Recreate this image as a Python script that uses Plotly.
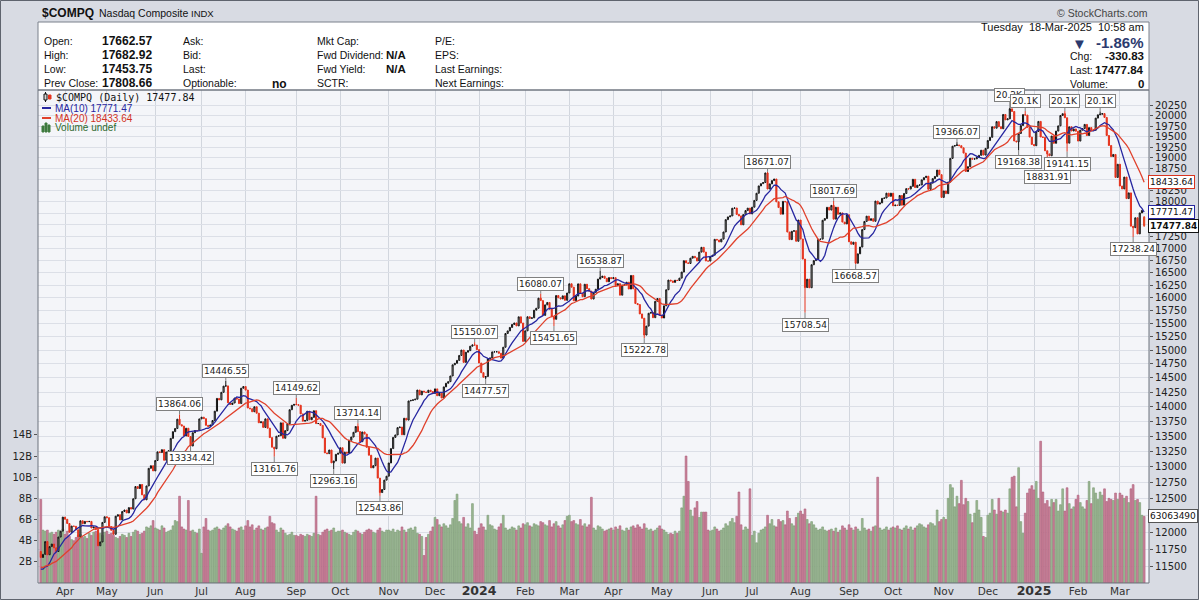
import numpy as np
import pandas as pd
import plotly.graph_objects as go

# ============================================
# DATA
# ============================================

market_holidays = [
    "2023-04-07", "2023-05-29", "2023-06-19", "2023-07-04", "2023-09-04",
    "2023-11-23", "2023-12-25", "2024-01-01", "2024-01-15", "2024-02-19",
    "2024-03-29", "2024-05-27", "2024-06-19", "2024-07-04", "2024-09-02",
    "2024-11-28", "2024-12-25", "2025-01-01", "2025-01-09", "2025-01-20",
    "2025-02-17",
]

# closes before the first visible bar, only used to seed the moving averages
warmup_closes = [
    11787.27, 11492.30, 11507.07, 11590.40, 11394.94, 11466.98, 11455.54,
    11379.48, 11462.98, 11689.01, 11675.74, 11530.33, 11576.00, 11338.36,
    11138.89, 11188.84, 11428.15, 11434.05, 11717.28,
]

closes = [
    # 2023 Mar (from the 17th)
    11630.51, 11675.54, 11860.11, 11669.96, 11787.40, 11823.96, 11768.84, 11716.08, 11926.24, 12013.47, 12221.91,
    # Apr
    12189.45, 12126.33, 11996.86, 12087.96, 12084.36, 12031.88, 11929.34, 12166.27, 12123.47, 12157.72,
    12153.41, 12157.23, 12059.56, 12072.46, 12037.20, 11799.16, 11854.35, 12142.24, 12226.58,
    # May
    12212.60, 12080.51, 12025.33, 11966.40, 12235.41, 12256.92, 12179.55, 12306.44, 12328.51, 12284.74, 12365.21,
    12343.05, 12500.57, 12688.84, 12657.90, 12720.78, 12560.25, 12484.16, 12698.09, 12975.69, 13017.43, 12935.29,
    # Jun
    13100.98, 13240.77, 13229.43, 13276.42, 13104.90, 13238.52, 13259.14, 13461.92, 13573.32, 13626.48, 13782.82,
    13689.57, 13667.29, 13502.20, 13630.61, 13492.52, 13335.78, 13555.67, 13591.75, 13591.33, 13787.92,
    # Jul
    13816.77, 13791.65, 13679.04, 13660.72, 13685.48, 13760.70, 13918.96, 14138.57, 14113.70, 14244.95,
    14353.64, 14358.02, 14063.31, 14032.81, 14058.87, 14144.56, 14127.28, 14050.11, 14316.66, 14346.02,
    # Aug
    14283.91, 13973.45, 13959.72, 13909.24, 13994.40, 13884.32, 13722.02, 13737.99, 13644.85, 13788.33, 13631.05,
    13474.63, 13316.93, 13290.78, 13497.59, 13505.87, 13721.03, 13463.97, 13590.65, 13705.13, 13943.76, 14019.31, 14034.97,
    # Sep
    14031.82, 14020.95, 13872.47, 13748.83, 13761.53, 13917.89, 13773.61, 13813.59, 13926.05, 13708.33,
    13710.24, 13678.19, 13469.13, 13223.98, 13211.81, 13271.32, 13063.61, 13092.85, 13201.28, 13219.32,
    # Oct
    13307.77, 13059.47, 13236.01, 13219.83, 13431.34, 13484.24, 13562.84, 13659.68, 13574.22, 13407.23, 13567.98,
    13533.75, 13314.30, 13186.18, 12983.81, 13018.33, 13139.88, 12821.22, 12595.61, 12643.01, 12789.48, 12851.24,
    # Nov
    13061.47, 13294.19, 13478.28, 13518.78, 13639.86, 13650.41, 13521.45, 13798.11, 13767.74, 14094.38, 14103.84,
    14113.67, 14125.48, 14284.53, 14199.98, 14265.86, 14250.85, 14241.02, 14281.76, 14258.49, 14226.22,
    # Dec
    14305.03, 14185.49, 14229.91, 14146.71, 14339.99, 14403.97, 14432.49, 14533.40, 14733.96, 14761.56,
    14813.92, 14904.81, 15003.22, 14777.94, 14963.87, 14992.97, 15074.57, 15099.18, 15095.14, 15011.35,
    # 2024 Jan
    14765.94, 14592.21, 14510.30, 14524.07, 14843.77, 14857.71, 14969.65, 14970.19, 14972.76, 14944.35, 14855.62,
    15055.65, 15310.97, 15360.29, 15425.94, 15481.92, 15510.50, 15455.36, 15628.04, 15509.90, 15164.01,
    # Feb
    15361.64, 15628.95, 15597.68, 15609.00, 15756.64, 15793.72, 15990.66, 15942.55, 15655.60, 15859.15,
    15906.17, 15775.65, 15630.78, 15580.87, 16041.62, 15996.82, 15976.25, 16035.30, 15947.74, 16091.92,
    # Mar
    16274.94, 16207.51, 15939.59, 16031.54, 16273.38, 16085.11, 16019.27, 16265.64, 16177.77, 16128.53,
    15973.17, 16103.45, 16166.79, 16369.41, 16401.84, 16428.82, 16384.47, 16315.70, 16399.52, 16379.46,
    # Apr
    16396.83, 16240.45, 16277.46, 16049.08, 16248.52, 16253.96, 16306.64, 16170.36, 16442.20, 16175.09, 15885.02,
    15865.25, 15683.37, 15601.50, 15282.01, 15451.31, 15696.64, 15712.75, 15611.76, 15927.90, 15983.08, 15657.82,
    # May
    15605.48, 15840.96, 16156.33, 16349.25, 16332.56, 16302.76, 16346.26, 16340.87, 16388.24, 16511.18, 16742.39,
    16698.32, 16685.97, 16794.87, 16832.62, 16801.54, 16736.03, 16920.79, 17019.88, 16920.58, 16737.08, 16735.02,
    # Jun
    16828.67, 16857.05, 17187.90, 17173.12, 17133.13, 17192.53, 17343.55, 17608.44, 17667.56, 17688.88,
    17857.02, 17862.23, 17721.59, 17689.36, 17496.82, 17717.65, 17805.16, 17858.68, 17732.60,
    # Jul
    17879.30, 18028.76, 18188.30, 18352.76, 18403.74, 18429.29, 18647.45, 18283.41, 18398.45, 18472.57, 18509.34,
    17996.92, 17871.22, 17726.94, 18007.57, 17997.35, 17342.41, 17181.72, 17357.88, 17370.20, 17147.42, 17599.40,
    # Aug
    17194.15, 16776.16, 16200.08, 16366.86, 16195.81, 16660.02, 16745.30, 16780.61, 17187.61, 17192.60, 17594.50,
    17631.72, 17876.77, 17816.94, 17918.99, 17619.35, 17877.79, 17725.77, 17754.82, 17556.03, 17516.43, 17713.62,
    # Sep
    17136.30, 17084.30, 17127.66, 16690.83, 16884.60, 17025.88, 17395.53, 17569.68, 17683.98, 17592.13,
    17628.06, 17573.30, 18013.98, 17948.32, 17974.27, 18074.52, 18082.21, 18190.29, 18119.59, 18189.17,
    # Oct
    17910.36, 17925.12, 17918.48, 18137.85, 17923.90, 18182.92, 18291.62, 18282.05, 18342.94, 18502.69, 18315.59, 18367.08,
    18373.61, 18489.55, 18540.01, 18573.13, 18276.65, 18415.49, 18518.61, 18567.19, 18712.75, 18607.93, 18095.15,
    # Nov
    18239.92, 18179.98, 18439.17, 18983.47, 19269.46, 19286.78, 19298.76, 19281.40, 19230.74, 19107.65,
    18680.12, 18791.81, 18987.47, 18966.14, 18972.42, 19003.65, 19054.84, 19174.30, 19060.48, 19218.17,
    # Dec
    19403.95, 19480.91, 19735.12, 19700.26, 19859.77, 19736.69, 19687.24, 20034.89, 19902.84, 19926.72, 20173.89,
    20109.06, 19392.69, 19372.77, 19572.60, 19764.89, 20031.13, 20020.36, 19722.03, 19486.79, 19310.79,
    # 2025 Jan
    19280.79, 19621.68, 19864.98, 19489.68, 19478.88, 19161.63, 19088.10, 19044.39, 19511.23, 19338.29,
    19630.20, 19756.78, 20009.34, 20053.68, 19954.30, 19341.83, 19733.59, 19632.32, 19681.75, 19627.44,
    # Feb
    19391.96, 19654.02, 19692.33, 19791.99, 19523.40, 19714.27, 19643.86, 19649.95, 19945.64, 20026.77,
    20041.26, 20056.25, 19962.36, 19524.01, 19286.93, 19026.39, 19075.26, 18544.42, 18847.28,
    # Mar
    18350.19, 18285.16, 18552.73, 18069.26, 18196.22, 17468.32, 17436.10, 17648.45, 17303.01, 17754.09,
    17808.66, 17477.84,
]

# daily volume in billions of shares
volumes = [
    # 2023 Mar
    7.9, 5.0, 4.9, 5.0, 4.7, 4.8, 4.6, 4.8, 5.0, 4.7, 5.1,
    # Apr
    4.6, 4.9, 4.4, 4.1, 4.0, 4.3, 4.5, 4.6, 4.3, 4.4, 4.2, 4.7, 4.5, 4.8, 4.9, 4.6, 4.7, 4.5, 4.8,
    # May
    4.9, 4.6, 4.7, 4.5, 4.3, 4.2, 4.4, 4.6, 4.5, 4.3, 4.7, 4.4, 4.8, 5.0, 4.9, 4.6, 4.7, 4.9, 5.3, 5.2, 5.4, 5.9,
    # Jun
    5.2, 5.1, 5.0, 5.4, 5.2, 4.8, 4.9, 5.0, 5.4, 5.9, 5.8, 8.2, 5.3, 5.1, 5.0, 7.8, 4.9, 5.0, 4.8, 4.7, 5.1,
    # Jul
    2.8, 5.3, 6.1, 5.0, 4.9, 5.0, 5.2, 5.3, 5.1, 5.0, 5.2, 5.4, 5.6, 5.3, 5.1, 5.0, 4.9, 5.2, 5.3, 5.0,
    # Aug
    5.4, 5.9, 5.3, 5.5, 5.0, 5.2, 5.4, 5.1, 5.0, 5.2, 5.3, 6.3, 5.7, 5.6, 5.0, 4.8, 5.2, 5.0, 4.7, 4.5, 4.6, 4.8, 4.5,
    # Sep
    4.5, 4.4, 4.6, 4.5, 4.4, 4.6, 4.5, 4.4, 4.7, 8.2, 4.6, 4.5, 4.8, 5.0, 5.1, 4.9, 5.0, 5.2, 4.8, 4.9,
    # Oct
    4.9, 5.0, 4.8, 4.7, 4.6, 4.5, 4.8, 5.0, 4.9, 4.7, 4.6, 4.8, 5.0, 5.1, 5.0, 4.8, 4.7, 5.0, 5.2, 4.9, 4.8, 5.0,
    # Nov
    5.0, 4.9, 5.1, 4.8, 5.0, 4.9, 5.3, 5.0, 4.8, 5.1, 5.2, 5.0, 5.3, 4.7, 4.6, 4.4, 2.6, 4.3, 4.6, 4.9, 5.3,
    # Dec
    6.2, 6.0, 5.5, 5.3, 5.6, 5.4, 5.2, 5.5, 6.1, 7.8, 8.4, 5.8, 5.6, 6.2, 5.3, 5.6, 5.2, 7.5, 4.9, 4.6,
    # 2024 Jan
    5.2, 5.6, 5.3, 5.0, 6.4, 5.5, 5.4, 5.1, 5.0, 5.3, 5.6, 6.4, 5.2, 5.0, 5.1, 5.3, 5.2, 5.0, 5.4, 5.2, 5.6,
    # Feb
    5.5, 5.7, 5.4, 5.3, 5.6, 5.5, 5.4, 5.8, 5.7, 5.5, 5.4, 5.9, 5.3, 5.6, 5.8, 5.4, 5.2, 5.5, 5.9, 6.3,
    # Mar
    6.4, 5.8, 5.9, 5.6, 5.5, 6.0, 5.4, 5.6, 5.3, 5.5, 8.1, 5.2, 5.0, 5.4, 5.3, 5.1, 4.9, 5.0, 5.1, 5.2,
    # Apr
    5.0, 5.3, 5.1, 5.4, 5.0, 4.9, 5.2, 5.0, 5.3, 5.4, 5.2, 5.5, 5.3, 5.1, 5.6, 5.2, 5.0, 5.1, 4.9, 5.0, 5.2, 5.4,
    # May
    5.1, 5.0, 4.8, 4.6, 4.7, 4.6, 4.9, 4.7, 4.9, 7.1, 8.2, 12.0, 9.6, 6.9, 6.3, 7.1, 7.7, 6.2, 6.7, 6.7, 6.7, 5.0,
    # Jun
    4.9, 5.0, 5.3, 5.1, 4.9, 5.0, 5.2, 5.6, 5.4, 5.8, 6.1, 5.7, 6.3, 8.6, 5.5, 5.0, 5.3, 5.1, 8.9,
    # Jul
    4.5, 4.9, 3.8, 4.7, 5.0, 5.1, 5.3, 6.4, 5.6, 6.0, 5.4, 5.3, 6.0, 5.8, 5.9, 5.5, 6.8, 6.1, 5.6, 5.4, 6.2, 6.6,
    # Aug
    6.8, 6.5, 7.0, 6.0, 5.6, 5.8, 5.5, 5.2, 5.0, 5.1, 5.3, 5.0, 4.9, 5.0, 5.1, 4.9, 5.2, 4.8, 5.0, 5.4, 5.2, 5.0,
    # Sep
    5.5, 5.2, 5.0, 5.3, 5.1, 4.9, 6.1, 5.2, 5.0, 5.1, 4.9, 5.3, 5.4, 10.0, 5.2, 5.0, 5.1, 5.3, 5.0, 5.2,
    # Oct
    5.3, 5.2, 5.4, 5.1, 5.0, 5.2, 5.4, 5.1, 5.3, 5.0, 5.2, 5.4, 5.6, 5.5, 5.3, 5.2, 5.5, 5.7, 5.6, 5.4, 6.9, 5.8, 6.0,
    # Nov
    6.2, 6.0, 8.0, 9.3, 9.0, 7.2, 8.2, 7.5, 9.7, 7.4, 8.0, 7.7, 6.5, 5.7, 6.6, 7.8, 6.9, 6.2, 4.4, 4.3,
    # Dec
    6.4, 6.6, 7.9, 6.9, 6.5, 8.0, 6.8, 6.7, 6.9, 6.6, 8.9, 10.0, 10.1, 7.2, 10.9, 5.8, 4.7, 6.6, 8.5, 8.9, 9.2,
    # 2025 Jan
    8.8, 9.6, 8.0, 13.4, 8.6, 7.5, 7.8, 7.2, 7.9, 7.6, 7.9, 6.8, 7.4, 8.9, 6.8, 9.0, 7.5, 7.0, 7.2, 7.9,
    # Feb
    8.3, 7.6, 7.2, 7.0, 7.8, 9.6, 7.5, 9.0, 8.5, 7.9, 8.6, 8.3, 8.9, 7.7, 8.0, 7.9, 7.8, 8.5, 7.9,
    # Mar
    8.5, 8.3, 8.0, 8.2, 7.6, 8.9, 9.3, 7.8, 7.9, 7.6, 6.4, 6.3,
]

# intraday bar of the last session and header figures
last_open = 17662.57
last_high = 17682.92
last_low = 17453.75
header_change = -330.83
header_pct = -1.86
header_ma10 = 17771.47
header_ma20 = 18433.64
last_volume_text = "63063490"

# swing highs / lows labelled on the chart
pivot_dates = [
    "2023-06-16", "2023-06-26", "2023-07-19", "2023-08-18", "2023-09-01", "2023-09-27",
    "2023-10-12", "2023-10-26", "2023-12-28", "2024-01-05", "2024-02-12", "2024-02-21",
    "2024-03-21", "2024-04-19", "2024-07-11", "2024-08-05", "2024-08-22", "2024-09-06",
    "2024-11-11", "2024-12-16", "2024-12-20", "2024-12-26", "2025-01-13", "2025-01-24",
    "2025-01-27", "2025-02-18", "2025-03-11",
]
pivot_values = [
    13864.06, 13334.42, 14446.55, 13161.76, 14149.62, 12963.16,
    13714.14, 12543.86, 15150.07, 14477.57, 16080.07, 15451.65,
    16538.87, 15222.78, 18671.07, 15708.54, 18017.69, 16668.57,
    19366.07, 20204.58, 19168.38, 20118.78, 18831.91, 20118.61,
    19141.15, 20110.12, 17238.24,
]
pivot_kinds = [
    "H", "L", "H", "L", "H", "L",
    "H", "L", "H", "L", "H", "L",
    "H", "L", "H", "L", "H", "L",
    "H", "H", "L", "H", "L", "H",
    "L", "H", "L",
]

# ============================================
# PREPARATION
# ============================================

dates = pd.bdate_range("2023-03-17", "2025-03-18", freq="C", holidays=market_holidays)
assert len(dates) == len(closes) == len(volumes), (len(dates), len(closes), len(volumes))

n = len(closes)
idx = np.arange(n)
close = np.array(closes)
prev_close = np.concatenate([[warmup_closes[-1]], close[:-1]])

opens = prev_close.copy()
opens[-1] = last_open
highs = np.maximum(opens, close)
lows = np.minimum(opens, close)
highs[-1] = last_high
lows[-1] = last_low
for d, v, k in zip(pivot_dates, pivot_values, pivot_kinds):
    i = dates.get_loc(pd.Timestamp(d))
    if k == "H":
        highs[i] = max(highs[i], v)
    else:
        lows[i] = min(lows[i], v)

all_close = pd.Series(warmup_closes + closes)
ma10 = all_close.rolling(10).mean().iloc[len(warmup_closes):].values
ma20 = all_close.rolling(20).mean().iloc[len(warmup_closes):].values

vol_colors = np.where(close >= prev_close, "#9cb895", "#c98399")
vol_lines = np.where(close >= prev_close, "#789870", "#ad5a78")

# month ticks (first session of every full month)
tick_vals, tick_text = [], []
month_key = dates.to_period("M")
for i in range(1, n):
    if month_key[i] != month_key[i - 1]:
        tick_vals.append(i)
        if dates[i].month == 1:
            tick_text.append(f"<span style='font-size:12.5px'><b>{dates[i].year}</b></span>")
        else:
            tick_text.append(dates[i].strftime("%b"))

# ============================================
# FIGURE
# ============================================

SANS = "Liberation Sans, Arial, sans-serif"
VERD = "DejaVu Sans, Verdana, sans-serif"
MONO = "DejaVu Sans Mono, monospace"

W, H = 1199, 600
L, R, T, B = 38, 1149, 90, 583


def fx(px):
    return (px - L) / (R - L)


def fy(py):
    return (B - py) / (B - T)


fig = go.Figure()

fig.add_trace(go.Bar(
    x=idx, y=volumes, yaxis="y",
    marker=dict(color=vol_colors, line=dict(color=vol_lines, width=0.6)),
    hoverinfo="skip",
))

fig.add_trace(go.Candlestick(
    x=idx[:-1], open=opens[:-1], high=highs[:-1], low=lows[:-1], close=close[:-1],
    yaxis="y2",
    increasing=dict(line=dict(color="#111111", width=1), fillcolor="#d4d4d4"),
    decreasing=dict(line=dict(color="#e5321c", width=1), fillcolor="#e5321c"),
    whiskerwidth=0,
))

fig.add_trace(go.Candlestick(
    x=idx[-1:], open=opens[-1:], high=highs[-1:], low=lows[-1:], close=close[-1:],
    yaxis="y2",
    increasing=dict(line=dict(color="#e5321c", width=1), fillcolor="#f3e23a"),
    decreasing=dict(line=dict(color="#e5321c", width=1), fillcolor="#f3e23a"),
    whiskerwidth=0,
))

fig.add_trace(go.Scatter(x=idx, y=ma10, yaxis="y2", mode="lines",
                         line=dict(color="#2626a0", width=1.3), hoverinfo="skip"))
fig.add_trace(go.Scatter(x=idx, y=ma20, yaxis="y2", mode="lines",
                         line=dict(color="#e0412c", width=1.3), hoverinfo="skip"))

price_ticks = list(range(11500, 20251, 250))

fig.update_layout(
    width=W, height=H,
    margin=dict(l=L, r=W - R, t=T, b=H - B),
    paper_bgcolor="#d8dbe3",
    plot_bgcolor="#f4f5f9",
    showlegend=False,
    bargap=0.18,
    xaxis=dict(
        range=[-1.27, 503.2], tickvals=tick_vals, ticktext=tick_text,
        showgrid=True, gridcolor="#d2d6de", gridwidth=1, zeroline=False,
        ticks="", tickfont=dict(family=VERD, size=10.5, color="#333333"),
        rangeslider=dict(visible=False), automargin=False, showline=False,
    ),
    yaxis=dict(
        range=[0, 46.6], tickvals=list(range(2, 15, 2)),
        ticktext=[f"{v}B" for v in range(2, 15, 2)],
        side="left", showgrid=False, zeroline=False,
        ticks="outside", ticklen=3, tickcolor="#555555",
        tickfont=dict(family=VERD, size=10, color="#222222"), automargin=False,
    ),
    yaxis2=dict(
        overlaying="y", side="right", type="log",
        range=[np.log10(11272), np.log10(20646)],
        tickvals=price_ticks, ticktext=[str(v) for v in price_ticks],
        showgrid=True, gridcolor="#dcdfe7", gridwidth=1, zeroline=False,
        ticks="outside", ticklen=3, tickcolor="#555555",
        tickfont=dict(family=VERD, size=10, color="#222222"), automargin=False,
    ),
)

shapes = []
ann = []


def text(px, py, s, size=11, color="#111111", bold=False, anchor="left", family=SANS):
    ann.append(dict(
        xref="paper", yref="paper", x=fx(px), y=fy(py),
        text=f"<b>{s}</b>" if bold else s, showarrow=False,
        xanchor=anchor, yanchor="middle",
        font=dict(family=family, size=size, color=color),
    ))


def rect(x0, y0, x1, y1, fill=None, line="#777777", width=1):
    shapes.append(dict(
        type="rect", xref="paper", yref="paper",
        x0=fx(x0), x1=fx(x1), y0=fy(y1), y1=fy(y0),
        fillcolor=fill if fill else "rgba(0,0,0,0)",
        line=dict(color=line, width=width), layer="above",
    ))


# outer frame, info panel, plot frame
rect(0.5, 0.5, 1198.5, 599.5, line="#5f646e")
rect(38, 22, 1149, 90, fill="#ffffff", line="#7b808b")
shapes.append(dict(type="rect", xref="paper", yref="paper", x0=0, x1=1, y0=0, y1=1,
                   line=dict(color="#6d727c", width=1), layer="above"))

# title bar
text(40, 13, "$COMPQ", size=12, bold=True)
text(97, 13, "Nasdaq Composite", size=10.5)
text(189, 13, "INDX", size=9.5)
text(1150, 13, "© StockCharts.com", size=10.5, color="#444444", anchor="right")

# info panel
prev = closes[-2]
last = closes[-1]
rows_y = [41, 55, 69, 83]
col1 = ["Open:", "High:", "Low:", "Prev Close:"]
col1_vals = [last_open, last_high, last_low, prev]
col2 = ["Ask:", "Bid:", "Last:", "Optionable:"]
col3 = ["Mkt Cap:", "Fwd Dividend:", "Fwd Yield:", "SCTR:"]
col4 = ["P/E:", "EPS:", "Last Earnings:", "Next Earnings:"]
for y, a, v, b, c, d in zip(rows_y, col1, col1_vals, col2, col3, col4):
    text(42, y, a, size=10.5)
    text(100, y, f"{v:.2f}", size=12, bold=True)
    text(181, y, b, size=10.5)
    text(315, y, c, size=10.5)
    text(433, y, d, size=10.5)
text(270, 84, "no", size=12, bold=True)
text(384, 55, "N/A", size=11.5, bold=True)
text(384, 69, "N/A", size=11.5, bold=True)

text(1146, 27, "Tuesday  18-Mar-2025  10:58 am", size=11, anchor="right")
text(1079, 43, "▼", size=15, color="#2c3a6e", anchor="center")
text(1146, 42, f"{header_pct:.2f}%", size=15, bold=True, color="#2c3a6e", anchor="right")
text(1068, 56, "Chg:", size=10.5)
text(1146, 56, f"{header_change:.2f}", size=11.5, bold=True, anchor="right")
text(1068, 70, "Last:", size=10.5)
text(1146, 70, f"{last:.2f}", size=11.5, bold=True, anchor="right")
text(1068, 84, "Volume:", size=10.5)
text(1146, 84, "0", size=11.5, bold=True, anchor="right")

# in-chart legend
text(54, 97, f"$COMPQ (Daily) {last:.2f}", size=10, family=MONO, color="#111111")
text(53, 108, f"MA(10) {header_ma10:.2f}", size=10, family=SANS, color="#2626a0")
text(53, 118, f"MA(20) {header_ma20:.2f}", size=10, family=SANS, color="#d2321e")
text(53, 128, "Volume undef", size=10, family=SANS, color="#2f6a2f")
shapes.append(dict(type="line", xref="paper", yref="paper", x0=fx(45.5), x1=fx(45.5),
                   y0=fy(102), y1=fy(92), line=dict(color="#111111", width=1)))
rect(44, 94, 47, 100, fill="#d4d4d4", line="#111111")
rect(48.5, 95, 51, 99, fill="#e5321c", line="#e5321c")
shapes.append(dict(type="line", xref="paper", yref="paper", x0=fx(42), x1=fx(51),
                   y0=fy(108), y1=fy(108), line=dict(color="#2626a0", width=2)))
shapes.append(dict(type="line", xref="paper", yref="paper", x0=fx(42), x1=fx(51),
                   y0=fy(118), y1=fy(118), line=dict(color="#e0412c", width=2)))
for bx, by in [(42, 126), (45, 123), (48, 125)]:
    rect(bx, by, bx + 2, 132, fill="#3f7a3f", line="#3f7a3f")

# swing-point labels (vertical offsets in px; the record high label sits higher)
label_offset = {"2024-12-16": -13}
for d, v, k in zip(pivot_dates, pivot_values, pivot_kinds):
    i = dates.get_loc(pd.Timestamp(d))
    label = f"{v / 1000:.1f}K" if v >= 20000 else f"{v:.2f}"
    ay = label_offset.get(d, -10 if k == "H" else 12)
    ann.append(dict(
        x=i, y=np.log10(v), xref="x", yref="y2", text=label,
        showarrow=True, arrowhead=0, arrowwidth=1, arrowcolor="#808080",
        ax=0, ay=ay,
        bgcolor="#ffffff", bordercolor="#808080", borderwidth=1, borderpad=1,
        font=dict(family=VERD, size=9, color="#222222"),
    ))

# value tags on the right axis (they sit over the tick labels, as in the original)
tags = [
    (header_ma20, f"{header_ma20:.2f}", "#d8341f", False),
    (header_ma10, f"{header_ma10:.2f}", "#2626a0", False),
    (last, f"{last:.2f}", "#111111", True),
]
for val, label, col, bold in tags:
    ann.append(dict(
        xref="paper", yref="y2", x=fx(1148), y=np.log10(val),
        text=f"<b>{label}</b>" if bold else label, showarrow=False,
        xanchor="left", yanchor="middle",
        bgcolor="#ffffff", bordercolor=col, borderwidth=1, borderpad=1,
        font=dict(family=VERD, size=9, color="#111111"),
    ))
ann.append(dict(
    xref="paper", yref="y", x=fx(1148), y=volumes[-1],
    text=last_volume_text, showarrow=False, xanchor="left", yanchor="middle",
    bgcolor="#ffffff", bordercolor="#555555", borderwidth=1, borderpad=1,
    font=dict(family=VERD, size=9, color="#111111"),
))

fig.update_layout(shapes=shapes, annotations=ann)

fig.write_html(
    "out.html",
    config={"displayModeBar": False},
    post_script="document.body.style.margin='0';document.body.style.overflow='hidden';",
)
